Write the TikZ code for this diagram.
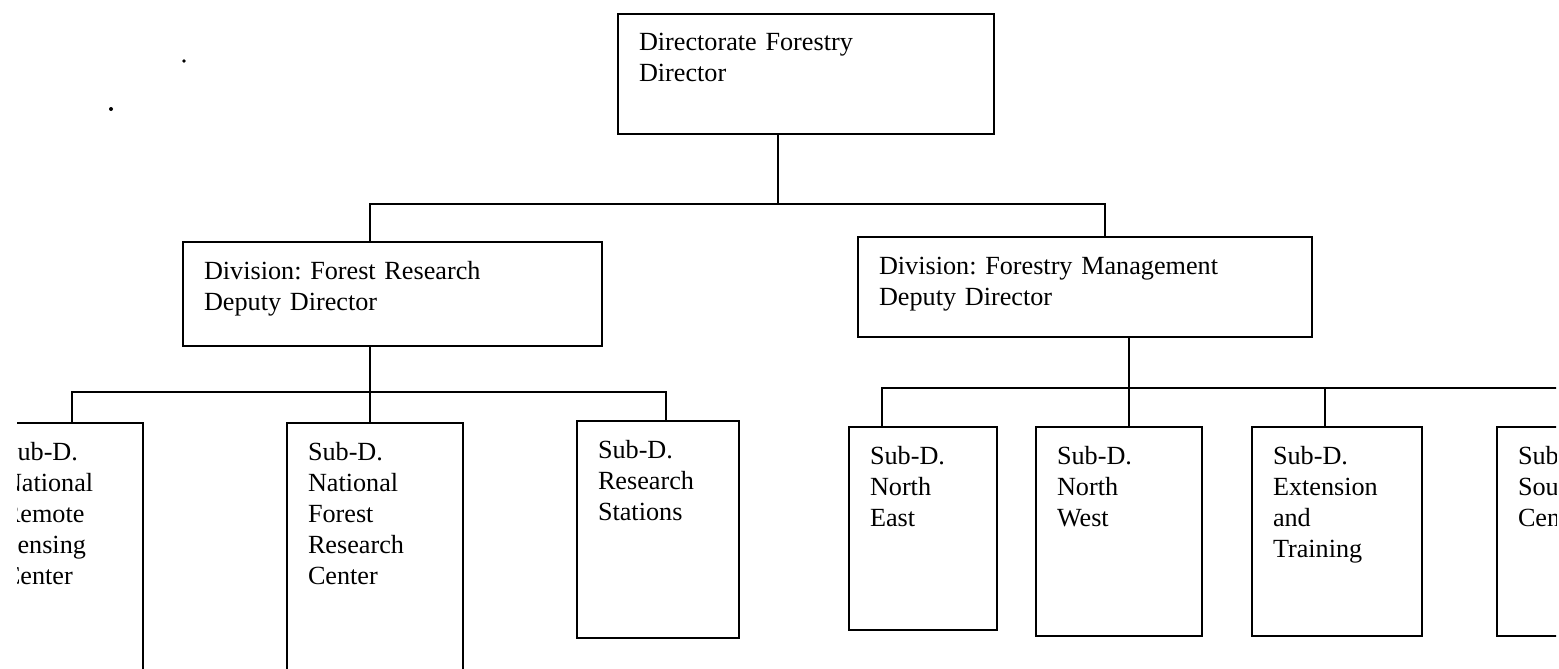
\documentclass[tikz,border=0pt]{standalone}
\usepackage{fontspec}
\setmainfont{Liberation Serif}
\tikzset{
  orgbox/.style={draw, line width=2.2pt, anchor=north west, outer sep=0pt,
    inner xsep=21pt, inner ysep=0pt, align=left, text height=37pt,
    font=\fontsize{26.2}{31}\selectfont\frenchspacing},
  link/.style={line width=2.2pt}
}

\begin{document}
\begin{tikzpicture}[x=1pt,y=-1pt]
          \useasboundingbox (0,0) rectangle (1559,669);
          \begin{scope}
          \clip (17,0) rectangle (1556,669);

          % directorate and divisions
          \node[orgbox, text width=334pt, text depth=83pt] (dir) at (618,14) {Directorate Forestry\\Director};
          \node[orgbox, text width=377pt, text depth=67pt] (divFR) at (183,242) {Division: Forest Research\\Deputy Director};
          \node[orgbox, text width=412pt, text depth=63pt] (divFM) at (858,237) {Division: Forestry Management\\Deputy Director};

          % sub-divisions
          \node[orgbox, text width=119pt, text depth=243pt] (nrsc) at (-18,423) {Sub-D.\\National\\Remote\\Sensing\\Center};
          \node[orgbox, text width=134pt, text depth=243pt] (nfrc) at (287,423) {Sub-D.\\National\\Forest\\Research\\Center};
          \node[orgbox, text width=120pt, text depth=180pt] (rs) at (577,421) {Sub-D.\\Research\\Stations};
          \node[orgbox, text width=106pt, text depth=166pt] (ne) at (849,427) {Sub-D.\\North\\East};
          \node[orgbox, text width=124pt, text depth=172pt] (nw) at (1036,427) {Sub-D.\\North\\West};
          \node[orgbox, text width=128pt, text depth=172pt] (ext) at (1252,427) {Sub-D.\\Extension\\and\\Training};
          \node[orgbox, text width=123pt, text depth=172pt] (south) at (1497,427) {Sub-D.\\South\\Center};

          % bus lines
          \coordinate (top-drop) at (778,204);
          \coordinate (top-bus-l) at (370,204);
          \coordinate (top-bus-r) at (1105,204);
          \coordinate (fr-drop) at (370,392);
          \coordinate (fr-bus-l) at (72,392);
          \coordinate (fr-bus-r) at (666,392);
          \coordinate (fm-drop) at (1129,388);
          \coordinate (fm-bus-l) at (882,388);
          \coordinate (fm-ext) at (1325,388);
          \coordinate (fm-bus-r) at (1600,388);

          \draw[link] (dir.south -| top-drop) -- (top-drop);
          \draw[link] (top-bus-l |- divFR.north) -- (top-bus-l) -- (top-bus-r) -- (top-bus-r |- divFM.north);
          \draw[link] (divFR.south -| fr-drop) -- (nfrc.north -| fr-drop);
          \draw[link] (nrsc.north -| fr-bus-l) -- (fr-bus-l) -- (fr-bus-r) -- (rs.north -| fr-bus-r);
          \draw[link] (divFM.south -| fm-drop) -- (nw.north -| fm-drop);
          \draw[link] (ne.north -| fm-bus-l) -- (fm-bus-l) -- (fm-bus-r);
          \draw[link] (fm-ext) -- (ext.north -| fm-ext);
          \end{scope}

          % specks of the scan
          \fill (184,61) circle (1.8pt);
          \fill (111,109) circle (2pt);
        \end{tikzpicture}
\end{document}
